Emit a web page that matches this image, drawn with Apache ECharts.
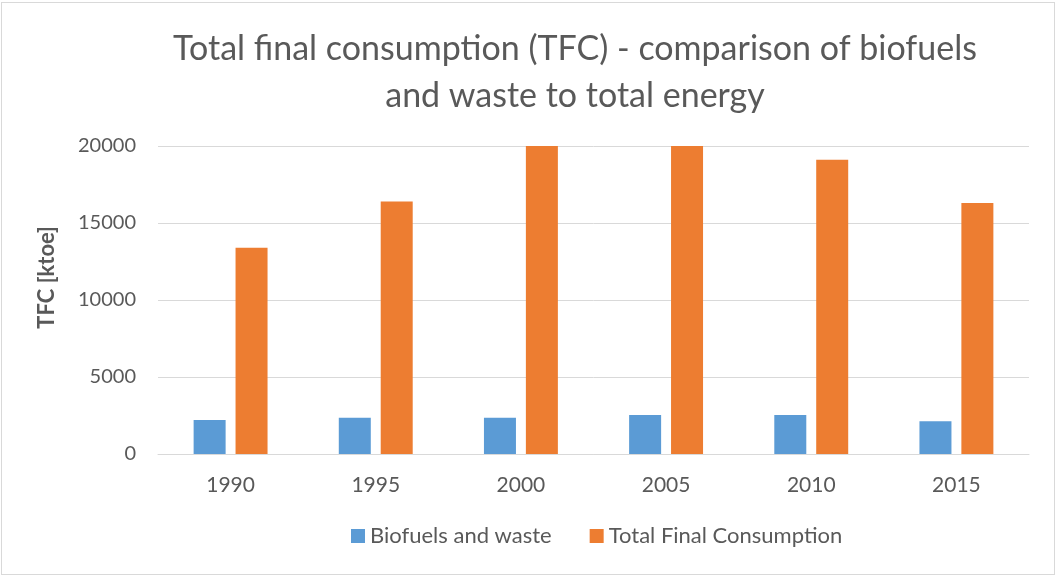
<!DOCTYPE html>
<html>
<head>
<meta charset="utf-8">
<script src="https://cdn.jsdelivr.net/npm/echarts@6/dist/echarts.min.js"></script>
<style>
    html, body { margin: 0; padding: 0; background: #fff; }
    .wrap { position: relative; width: 1056px; height: 577px; }
    #chart { width: 1056px; height: 577px; }
    /* thin grey frame like the Excel chart area */
    .frame {
        position: absolute; left: 1px; top: 2px; right: 1px; bottom: 2px;
        border: 1px solid #d9d9d9; pointer-events: none;
    }
</style>
</head>
<body>
<div class="wrap">
    <div id="chart"></div>
    <div class="frame"></div>
</div>
<script>
const years     = ['1990', '1995', '2000', '2005', '2010', '2015']
const biofuels  = [2200, 2350, 2350, 2530, 2530, 2130]
const totalTfc  = [13400, 16400, 20000, 20000, 19100, 16300]
const seriesNames = ['Biofuels and waste', 'Total Final Consumption']

const FONT = 'Lato, "Open Sans", sans-serif'
const GREY = '#595959'

const chart = echarts.init(document.getElementById('chart'))

chart.setOption({
    backgroundColor: '#ffffff',
    animation: false,
    title: {
        text: 'Total final consumption (TFC) - comparison of biofuels\nand waste to total energy',
        left: 570,
        top: 21,
        textAlign: 'center',
        textStyle: {
            fontFamily: FONT,
            fontSize: 34,
            fontWeight: 'normal',
            color: GREY,
            lineHeight: 47,
        },
    },
    legend: {
        data: seriesNames,
        left: 346,
        top: 520,
        itemWidth: 14,
        itemHeight: 14,
        itemGap: 38,
        icon: 'rect',
        textStyle: { fontFamily: FONT, fontSize: 22, color: GREY },
    },
    grid: { left: 158, right: 27, top: 146, bottom: 123 },
    xAxis: {
        type: 'category',
        data: years,
        axisLine:  { lineStyle: { color: '#d9d9d9', width: 1 } },
        axisTick:  { show: false },
        axisLabel: { fontFamily: FONT, fontSize: 21, color: GREY, margin: 21 },
    },
    yAxis: {
        type: 'value',
        min: 0,
        max: 20000,
        interval: 5000,
        axisLine:  { show: false },
        axisTick:  { show: false },
        axisLabel: { fontFamily: FONT, fontSize: 20, color: GREY, margin: 22, formatter: v => String(v) },
        splitLine: { lineStyle: { color: '#d9d9d9', width: 1 } },
    },
    // axis title sits a bit above the plot middle, so place it by hand
    graphic: [{
        type: 'text',
        left: 36,
        top: 226,
        rotation: Math.PI / 2,
        style: {
            text: 'TFC [ktoe]',
            font: 'bold 22px ' + FONT,
            fill: GREY,
        },
    }],
    series: [
        {
            name: seriesNames[0],
            type: 'bar',
            data: biofuels,
            barWidth: 32,
            barGap: '31%',
            clip: true,
            itemStyle: { color: '#5b9bd5' },
        },
        {
            name: seriesNames[1],
            type: 'bar',
            data: totalTfc,
            barWidth: 32,
            barGap: '31%',
            clip: true,
            itemStyle: { color: '#ed7d31' },
        },
    ],
})
</script>
</body>
</html>
